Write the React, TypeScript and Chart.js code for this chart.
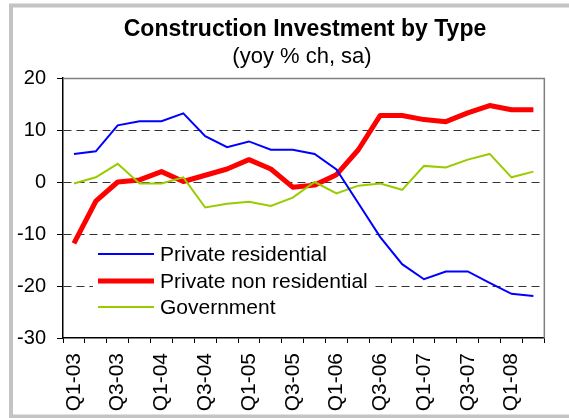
import React, { useEffect, useRef } from "react";
import { Chart, registerables } from "chart.js";

Chart.register(...registerables);

const categories = [
  "Q1-03", "Q2-03", "Q3-03", "Q4-03",
  "Q1-04", "Q2-04", "Q3-04", "Q4-04",
  "Q1-05", "Q2-05", "Q3-05", "Q4-05",
  "Q1-06", "Q2-06", "Q3-06", "Q4-06",
  "Q1-07", "Q2-07", "Q3-07", "Q4-07",
  "Q1-08", "Q2-08",
];

const privateResidential = [
  5.4, 5.9, 10.9, 11.7, 11.7, 13.2, 8.8, 6.7, 7.8, 6.2, 6.2,
  5.4, 2.4, -4.1, -10.6, -15.8, -18.7, -17.2, -17.2, -19.4, -21.5, -21.9,
];

const privateNonResidential = [
  -11.8, -3.7, 0.0, 0.4, 2.0, 0.1, 1.3, 2.5, 4.3, 2.5, -1.0,
  -0.6, 1.4, 6.2, 12.8, 12.8, 12.0, 11.6, 13.3, 14.7, 13.9, 13.9,
];

const government = [
  -0.3, 0.9, 3.5, -0.3, -0.3, 0.9, -4.9, -4.2, -3.8, -4.6, -3.0,
  0.0, -2.2, -0.7, -0.3, -1.5, 3.1, 2.8, 4.3, 5.4, 0.9, 2.0,
];

const yTicks = [20, 10, 0, -10, -20, -30];

const titleText = "Construction Investment by Type";
const subtitleText = "(yoy % ch, sa)";

const FONT = "'Liberation Sans', Arial, Helvetica, sans-serif";

const seriesNames = ["Private residential", "Private non residential", "Government"];
const seriesColors = ["#0000ff", "#ff0000", "#99cc00"];
const seriesWidths = [2, 5, 2];

const decorPlugin = {
  id: "decor",
  beforeDraw(chart: any) {
    const ctx = chart.ctx;
    ctx.save();
    ctx.fillStyle = "#ffffff";
    ctx.fillRect(0, 0, chart.width, chart.height);
    ctx.strokeStyle = "#c4c4c4";
    ctx.lineWidth = 4;
    ctx.strokeRect(11, 5.5, chart.width + 10, 411);
    ctx.restore();
  },
  afterDatasetsDraw(chart: any) {
    const ctx = chart.ctx;
    const a = chart.chartArea;
    ctx.save();
    // plot frame (top/right)
    ctx.strokeStyle = "#808080";
    ctx.lineWidth = 1.5;
    ctx.beginPath();
    ctx.moveTo(a.left, a.top + 0.5);
    ctx.lineTo(a.right, a.top + 0.5);
    ctx.lineTo(a.right, a.bottom);
    ctx.stroke();

    // legend box
    ctx.fillStyle = "#ffffff";
    ctx.fillRect(93, 238, 279, 84);
    ctx.font = `21px ${FONT}`;
    ctx.textBaseline = "middle";
    ctx.textAlign = "left";
    const rows = [254, 281, 307];
    for (let i = 0; i < seriesNames.length; i++) {
      ctx.strokeStyle = seriesColors[i];
      ctx.lineWidth = seriesWidths[i];
      ctx.beginPath();
      ctx.moveTo(98, rows[i]);
      ctx.lineTo(154, rows[i]);
      ctx.stroke();
      ctx.fillStyle = "#000000";
      ctx.fillText(seriesNames[i], 160, rows[i] + 1);
    }

    // titles
    ctx.textAlign = "center";
    ctx.textBaseline = "alphabetic";
    ctx.font = `bold 23px ${FONT}`;
    ctx.fillText(titleText, 305, 36);
    ctx.font = `22px ${FONT}`;
    ctx.fillText(subtitleText, 302, 63);
    ctx.restore();
  },
};

export default function App() {
  const canvasRef = useRef<HTMLCanvasElement | null>(null);

  useEffect(() => {
    if (!canvasRef.current) return;
    const chart = new Chart(canvasRef.current, {
      type: "line",
      data: {
        labels: categories,
        datasets: [
          {
            label: seriesNames[0],
            data: privateResidential,
            borderColor: seriesColors[0],
            borderWidth: seriesWidths[0],
            pointRadius: 0,
            tension: 0,
            fill: false,
          },
          {
            label: seriesNames[2],
            data: government,
            borderColor: seriesColors[2],
            borderWidth: seriesWidths[2],
            pointRadius: 0,
            tension: 0,
            fill: false,
          },
          {
            label: seriesNames[1],
            data: privateNonResidential,
            borderColor: seriesColors[1],
            borderWidth: seriesWidths[1],
            pointRadius: 0,
            tension: 0,
            fill: false,
            borderJoinStyle: "round",
          },
        ],
      },
      options: {
        responsive: false,
        animation: false,
        devicePixelRatio: 1,
        layout: { padding: { left: 0, right: 18, top: 78, bottom: 0 } },
        plugins: {
          legend: { display: false },
          title: { display: false },
          tooltip: { enabled: false },
        },
        scales: {
          x: {
            type: "category",
            offset: true,
            grid: {
              offset: true,
              drawOnChartArea: false,
              drawTicks: true,
              tickLength: 5,
              tickColor: "#000000",
            },
            border: { color: "#000000", width: 1.5 },
            ticks: {
              autoSkip: false,
              minRotation: 90,
              maxRotation: 90,
              padding: 10,
              color: "#000000",
              font: { family: FONT, size: 21 },
              callback: (_v: any, i: number) => (i % 2 === 0 ? categories[i] : ""),
            },
            afterFit: (scale: any) => {
              scale.height = 80;
            },
          },
          y: {
            min: -30,
            max: 20,
            afterBuildTicks: (scale: any) => {
              scale.ticks = yTicks.map((v) => ({ value: v }));
            },
            grid: {
              color: (c: any) =>
                c.tick && (c.tick.value === 20 || c.tick.value === -30) ? "rgba(0,0,0,0)" : "#333333",
              lineWidth: 1,
              drawTicks: true,
              tickLength: 6,
              tickColor: "#000000",
              tickBorderDash: [],
            },
            border: { color: "#000000", width: 1.5, dash: [8, 5] },
            ticks: {
              padding: 11,
              color: "#000000",
              font: { family: FONT, size: 20 },
            },
            afterFit: (scale: any) => {
              scale.width = 63;
            },
          },
        },
      },
      plugins: [decorPlugin],
    });
    return () => chart.destroy();
  }, []);

  return (
    <div style={{ position: "fixed", left: 0, top: 0, width: 569, height: 418 }}>
      <canvas ref={canvasRef} width={569} height={418} style={{ width: 569, height: 418 }} />
    </div>
  );
}
